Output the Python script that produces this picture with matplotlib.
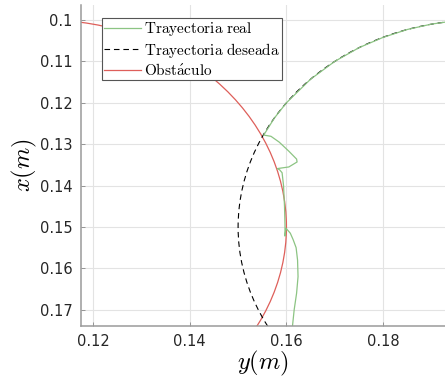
import numpy as np
import matplotlib
matplotlib.use("Agg")
import matplotlib.pyplot as plt
from matplotlib.patches import Circle
from matplotlib.lines import Line2D

plt.rcParams['mathtext.fontset'] = 'cm'

# circles: (y centre, x centre), radius
deseada_centro = (0.2, 0.15)
deseada_radio = 0.05
obstaculo_centro = (0.11, 0.15)
obstaculo_radio = 0.05

# real trajectory, points
real_y = [0.2, 0.197, 0.193, 0.19, 0.185, 0.18, 0.175, 0.17, 0.165, 0.16, 0.1575, 0.1553,
          0.1568, 0.1585, 0.1605, 0.1621, 0.1622, 0.1605, 0.1581,
          0.1586, 0.1591, 0.1594, 0.1596, 0.1597, 0.1597, 0.1599,
          0.1608, 0.1614, 0.1620, 0.1623, 0.1624, 0.1621, 0.1616, 0.1612]
real_x = [0.1, 0.1001, 0.1005, 0.1010, 0.1023, 0.1042, 0.1067, 0.11, 0.1143, 0.12, 0.1237, 0.1278,
          0.1281, 0.1295, 0.1317, 0.1336, 0.1343, 0.1355, 0.1359,
          0.1362, 0.1369, 0.140, 0.145, 0.1495, 0.1522, 0.1503,
          0.1515, 0.1531, 0.155, 0.158, 0.162, 0.166, 0.170, 0.1745]

xticks = [0.12, 0.14, 0.16, 0.18]
yticks = [0.1, 0.11, 0.12, 0.13, 0.14, 0.15, 0.16, 0.17]

verde = '#8cc483'
rojo = '#de5f5a'

fig = plt.figure(figsize=(4.45, 3.83), dpi=100)
ax = fig.add_axes([0.182, 0.149, 0.818, 0.838])

ax.add_patch(Circle(obstaculo_centro, obstaculo_radio, fill=False, color=rojo, lw=0.9))
ax.add_patch(Circle(deseada_centro, deseada_radio, fill=False, color='black', lw=0.8,
                    linestyle=(0, (5, 3.5))))
ax.plot(real_y, real_x, color=verde, lw=0.9)

ax.set_xlim(0.1175, 0.1928)
ax.set_ylim(0.1739, 0.09638)
ax.set_xticks(xticks)
ax.set_xticklabels(['0.12', '0.14', '0.16', '0.18'])
ax.set_yticks(yticks)
ax.set_yticklabels(['0.1', '0.11', '0.12', '0.13', '0.14', '0.15', '0.16', '0.17'])
ax.tick_params(direction='in', length=3, width=0.6, colors='#888888', labelcolor='#262626',
               labelsize=10.5, pad=6)
ax.grid(True, color='#e3e3e3', lw=0.8)
ax.set_axisbelow(True)
for s in ['top', 'right']:
    ax.spines[s].set_visible(False)
for s in ['left', 'bottom']:
    ax.spines[s].set_color('#9a9a9a')
    ax.spines[s].set_linewidth(1.1)

ax.set_xlabel(r'$y(m)$', fontsize=17.5, labelpad=0)
ax.set_ylabel(r'$x(m)$', fontsize=17.5, labelpad=1)

handles = [Line2D([], [], color=verde, lw=0.9),
           Line2D([], [], color='black', lw=0.8, linestyle=(0, (5, 3.5))),
           Line2D([], [], color=rojo, lw=0.9)]
labels = [r'$\mathrm{Trayectoria\ real}$', r'$\mathrm{Trayectoria\ deseada}$',
          r'$\mathrm{Obst\acute{a}culo}$']
leg = ax.legend(handles, labels, loc='upper left', bbox_to_anchor=(0.057, 0.959),
                fontsize=11, frameon=True, fancybox=False, framealpha=1,
                edgecolor='#555555', borderpad=0.15, labelspacing=0.15,
                handlelength=2.4, handletextpad=0.2, borderaxespad=0)
leg.get_frame().set_linewidth(0.8)

fig.savefig('out.png', dpi=100)
